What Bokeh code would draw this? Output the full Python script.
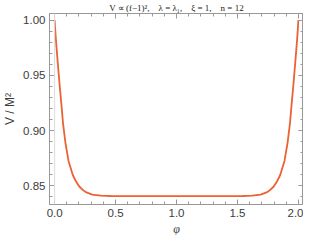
from bokeh.plotting import figure
from bokeh.models import (LinearAxis, SingleIntervalTicker, NumeralTickFormatter, Span, Range1d,
                          CustomJSTickFormatter, Title)
from bokeh.embed import file_html
from bokeh.resources import INLINE

# data
phi = [0.0, 0.010, 0.026, 0.042, 0.056, 0.069, 0.088, 0.114, 0.149, 0.175, 0.202,
       0.229, 0.256, 0.309, 0.38, 0.46, 0.6, 0.8, 1.0, 1.2, 1.4, 1.54, 1.62, 1.691,
       1.744, 1.771, 1.798, 1.825, 1.851, 1.886, 1.912, 1.931, 1.944, 1.958, 1.974,
       1.990, 2.0]
V = [1.000, 0.983, 0.961, 0.940, 0.9233, 0.9064, 0.8894, 0.8725, 0.8597, 0.8540, 0.8493,
     0.8464, 0.8442, 0.8419, 0.8411, 0.8407, 0.8405, 0.8405, 0.8405, 0.8405, 0.8405, 0.8407,
     0.8411, 0.8419, 0.8442, 0.8464, 0.8493, 0.8540, 0.8597, 0.8725, 0.8894, 0.9064, 0.9233,
     0.940, 0.961, 0.983, 1.000]

GAP = "\u00a0\u00a0\u00a0 "
title_text = ("V \u221d (f\u22121)\u00b2," + GAP + "\u03bb = \u03bb\u2081," + GAP +
              "\u03be = 1," + GAP + "n = 12")
x_label = "\u03c6"
y_label = "V / M\u00b2"

FRAME = "#999999"
TXT = "#3c3c3c"
LINE = "#EB6235"

p = figure(width=303, height=235, output_backend="svg", toolbar_location=None,
           x_range=Range1d(-0.042, 2.042), y_range=Range1d(0.833, 1.006),
           x_axis_type=None, y_axis_type=None,
           min_border_left=0, min_border_right=0, min_border_top=0, min_border_bottom=0)
p.background_fill_color = "white"
p.border_fill_color = "white"
p.grid.visible = False
p.outline_line_color = FRAME
p.outline_line_width = 1

p.title.text = title_text
p.title.text_font = "Liberation Serif"
p.title.text_font_size = "9px"
p.title.text_font_style = "normal"
p.title.text_color = "#222222"
p.title.align = "center"
p.title.standoff = 1
p.title.offset = 0

blank = CustomJSTickFormatter(code="return ''")

def style_axis(ax, show_labels, fmt):
    ax.axis_line_color = FRAME
    ax.major_tick_line_color = FRAME
    ax.minor_tick_line_color = FRAME
    ax.major_tick_in = 5
    ax.major_tick_out = 0
    ax.minor_tick_in = 3
    ax.minor_tick_out = 0
    if show_labels:
        ax.formatter = NumeralTickFormatter(format=fmt)
        ax.major_label_text_font = "Liberation Sans"
        ax.major_label_text_font_size = "11.5px"
        ax.major_label_text_color = TXT
        ax.major_label_standoff = 4
    else:
        ax.formatter = blank
        ax.major_label_standoff = 0

xt = SingleIntervalTicker(interval=0.5, num_minor_ticks=5)
yt = SingleIntervalTicker(interval=0.05, num_minor_ticks=5)

bottom = LinearAxis(ticker=xt)
style_axis(bottom, True, "0.0")
bottom.major_label_standoff = 4
p.add_layout(bottom, "below")

xtitle = Title(text=x_label, align="center", text_font="Liberation Serif",
               text_font_style="italic", text_font_size="12px", text_color=TXT,
               standoff=0, offset=0)
p.add_layout(xtitle, "below")

left = LinearAxis(ticker=yt, axis_label=y_label)
style_axis(left, True, "0.00")
left.axis_label_text_font = "Liberation Sans"
left.axis_label_text_font_style = "normal"
left.axis_label_text_font_size = "12px"
left.axis_label_text_color = TXT
left.axis_label_standoff = 3
p.add_layout(left, "left")

top = LinearAxis(ticker=xt)
style_axis(top, False, "0.0")
p.add_layout(top, "above")

right = LinearAxis(ticker=yt)
style_axis(right, False, "0.00")
p.add_layout(right, "right")

p.add_layout(Span(location=0, dimension="height", line_color="#dcdcdc", line_width=1))

p.line(phi, V, line_color=LINE, line_width=1.8)

open("out.html", "w").write(file_html(p, INLINE))
